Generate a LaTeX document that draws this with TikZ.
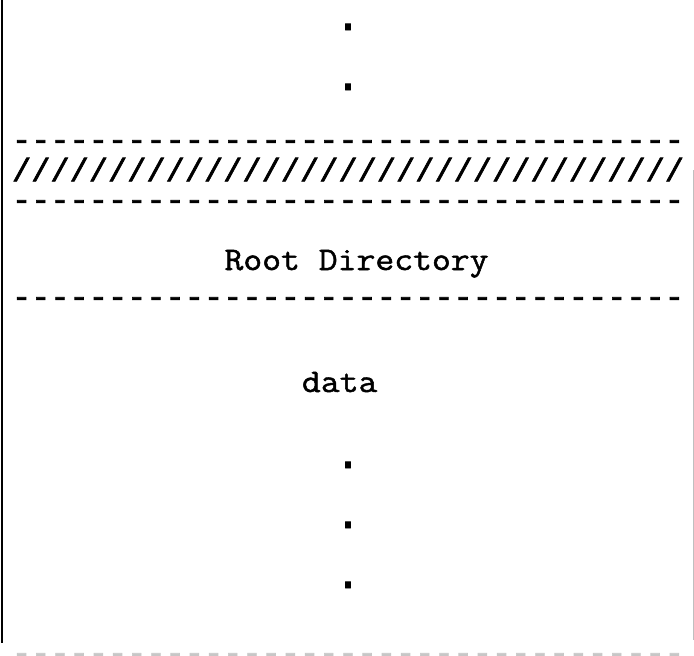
\documentclass[tikz,border=0pt]{standalone}
\usepackage{fontspec}
% rule rows and dots
\newfontfamily\sepfont[FakeBold=2,Ligatures=TeXOff]{Liberation Mono}
% labels in a slab-serif typewriter face
\newfontfamily\labfont[FakeBold=1.5,FakeStretch=1.11,Ligatures=TeXOff]{Latin Modern Mono}
\begin{document}
\begin{tikzpicture}[x=1pt,y=-1pt,
  sep/.style={anchor=base west,inner sep=0pt,outer sep=0pt,
    font=\sepfont\fontsize{32}{32}\selectfont},
  dotmark/.style={anchor=base west,inner sep=0pt,outer sep=0pt,
    text height=6pt,text depth=0pt,
    font=\sepfont\fontsize{42}{42}\selectfont},
  lab/.style={anchor=base west,inner sep=0pt,outer sep=0pt,
    font=\labfont\fontsize{33}{33}\selectfont},
  faint/.style={sep,text=black!22},
  edge/.style={line width=2pt,black},
  edgefaint/.style={line width=0.8pt,black!25}]
\useasboundingbox (0,0) rectangle (694,656);
% left and right borders of the block
\coordinate (lt) at (2,0);
\coordinate (lb) at (2,643);
\coordinate (rt) at (693,170);
\coordinate (rb) at (693,640);
\draw[edge] (lt) -- (lb);
\draw[edgefaint] (rt) -- (rb);
% continuation dots above
\node[dotmark] (dotA) at (335.4,30) {.};
\node[dotmark] (dotB) at (335.4,90) {.};
% separator rows
\node[sep] (sepA) at (12,150) {-----------------------------------};
\node[sep] (hatch) at (12,181) {///////////////////////////////////};
\node[sep] (sepB) at (12,210) {-----------------------------------};
\node[lab] (root) at (224.5,270) {Root Directory};
\node[sep] (sepC) at (12,307) {-----------------------------------};
\node[lab] (data) at (302,392) {data};
% continuation dots below
\node[dotmark] (dotC) at (335.4,468) {.};
\node[dotmark] (dotD) at (335.4,528) {.};
\node[dotmark] (dotE) at (335.4,588) {.};
% faint rule at the foot of the block
\node[faint] (sepD) at (12,656)
  {\raisebox{-7pt}[11pt][0pt]{-----------------------------------}};
\end{tikzpicture}
\end{document}
